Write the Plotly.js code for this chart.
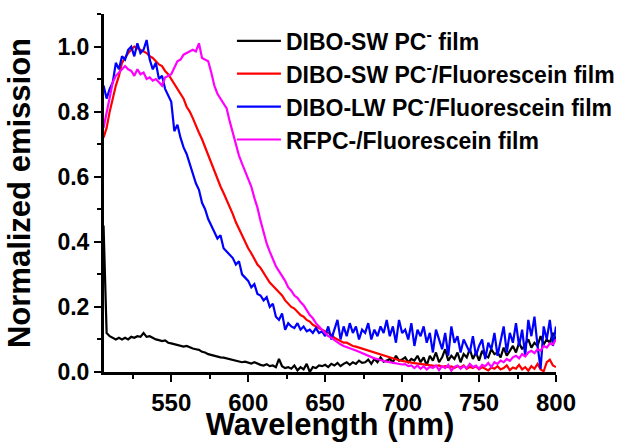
<!DOCTYPE html>
<html>
<head>
<meta charset="utf-8">
<script src="https://cdn.plot.ly/plotly-3.0.1.min.js"></script>
<style>html,body{margin:0;padding:0;background:#fff;}#chart{width:633px;height:442px;}</style>
</head>
<body>
<div id="chart"></div>
<script>
// Wavelength grid (nm), 506..800 step 2
const wavelength = [506,508,510,512,514,516,518,520,522,524,526,528,530,532,534,536,538,540,542,544,546,548,550,552,554,556,558,560,562,564,566,568,570,572,574,576,578,580,582,584,586,588,590,592,594,596,598,600,602,604,606,608,610,612,614,616,618,620,622,624,626,628,630,632,634,636,638,640,642,644,646,648,650,652,654,656,658,660,662,664,666,668,670,672,674,676,678,680,682,684,686,688,690,692,694,696,698,700,702,704,706,708,710,712,714,716,718,720,722,724,726,728,730,732,734,736,738,740,742,744,746,748,750,752,754,756,758,760,762,764,766,768,770,772,774,776,778,780,782,784,786,788,790,792,794,796,798,800];

const seriesNames = ["DIBO-SW PC<sup>-</sup> film", "DIBO-SW PC<sup>-</sup>/Fluorescein film", "DIBO-LW PC<sup>-</sup>/Fluorescein film", "RFPC-/Fluorescein film"];
const seriesColors = ["#000000", "#ff0000", "#0000ff", "#ff00ff"];

const diboSwFilm = [0.45,0.12,0.11,0.105,0.10,0.105,0.10,0.105,0.10,0.108,0.105,0.11,0.108,0.12,0.108,0.11,0.105,0.10,0.098,0.095,0.097,0.09,0.088,0.085,0.083,0.08,0.078,0.08,0.075,0.072,0.07,0.068,0.062,0.06,0.055,0.052,0.05,0.048,0.045,0.044,0.042,0.04,0.036,0.035,0.032,0.03,0.032,0.028,0.026,0.03,0.025,0.022,0.02,0.024,0.018,0.02,0.015,0.04,0.018,0.012,0.015,0.01,0.02,0.005,0.015,0.008,0.025,0.0,0.015,0.012,0.02,0.018,0.022,0.015,0.025,0.02,0.028,0.018,0.025,0.03,0.022,0.03,0.025,0.035,0.028,0.03,0.038,0.025,0.04,0.03,0.045,0.032,0.035,0.04,0.03,0.05,0.035,0.038,0.045,0.03,0.04,0.035,0.05,0.03,0.045,0.02,0.05,0.035,0.06,0.03,0.045,0.07,0.035,0.05,0.04,0.06,0.03,0.055,0.045,0.07,0.04,0.06,0.035,0.065,0.05,0.045,0.07,0.055,0.06,0.045,0.075,0.05,0.065,0.08,0.06,0.09,0.07,0.085,0.1,0.075,0.09,0.08,0.11,0.085,0.1,0.09,0.12,0.1];

const diboSwFluor = [0.72,0.75,0.80,0.84,0.88,0.91,0.95,0.965,0.98,0.99,1.0,0.995,0.99,0.985,0.98,0.97,0.965,0.955,0.945,0.94,0.925,0.915,0.90,0.885,0.87,0.855,0.84,0.815,0.80,0.78,0.755,0.735,0.715,0.69,0.665,0.64,0.615,0.595,0.57,0.55,0.53,0.51,0.485,0.46,0.44,0.415,0.395,0.38,0.365,0.345,0.33,0.32,0.305,0.29,0.275,0.265,0.255,0.245,0.235,0.22,0.21,0.20,0.195,0.185,0.175,0.17,0.16,0.155,0.145,0.14,0.135,0.13,0.125,0.12,0.115,0.105,0.10,0.095,0.09,0.09,0.085,0.08,0.078,0.075,0.072,0.068,0.066,0.062,0.058,0.055,0.052,0.05,0.046,0.044,0.042,0.038,0.036,0.034,0.033,0.03,0.029,0.027,0.026,0.024,0.022,0.023,0.021,0.02,0.018,0.02,0.016,0.018,0.015,0.017,0.012,0.018,0.014,0.02,0.01,0.016,0.012,0.018,0.008,0.015,0.01,0.005,0.014,0.01,0.018,0.008,0.012,0.02,0.006,0.014,0.01,0.022,0.008,0.015,0.004,0.018,0.01,0.025,0.008,0.002,0.03,0.038,0.02,0.015];

const diboLwFluor = [0.88,0.84,0.87,0.89,0.95,0.93,0.97,0.96,0.99,1.0,0.97,1.01,0.98,0.99,1.02,0.96,0.93,0.95,0.90,0.91,0.87,0.85,0.83,0.74,0.76,0.72,0.69,0.67,0.64,0.61,0.58,0.56,0.52,0.50,0.47,0.45,0.43,0.41,0.42,0.38,0.37,0.36,0.35,0.33,0.34,0.30,0.29,0.28,0.26,0.27,0.24,0.235,0.22,0.23,0.20,0.21,0.17,0.16,0.18,0.13,0.15,0.14,0.135,0.15,0.13,0.14,0.125,0.13,0.12,0.135,0.12,0.125,0.11,0.14,0.10,0.13,0.16,0.10,0.14,0.11,0.15,0.12,0.14,0.10,0.13,0.12,0.15,0.10,0.13,0.11,0.14,0.12,0.16,0.11,0.14,0.09,0.16,0.12,0.13,0.10,0.15,0.08,0.13,0.11,0.14,0.09,0.12,0.06,0.13,0.10,0.07,0.12,0.05,0.14,0.09,0.11,0.06,0.10,0.08,0.06,0.11,0.05,0.08,0.10,0.04,0.09,0.07,0.12,0.05,0.10,0.14,0.06,0.12,0.09,0.15,0.08,0.13,0.05,0.16,0.11,0.17,0.08,0.01,0.14,0.10,0.16,0.08,0.14];

const rfpcFluor = [0.75,0.80,0.85,0.89,0.91,0.92,0.93,0.94,0.93,0.925,0.91,0.93,0.915,0.92,0.90,0.905,0.895,0.90,0.89,0.88,0.905,0.91,0.915,0.935,0.955,0.96,0.975,0.98,0.985,0.99,0.985,1.01,0.965,0.96,0.955,0.92,0.88,0.855,0.84,0.825,0.81,0.77,0.735,0.70,0.665,0.64,0.615,0.595,0.57,0.535,0.505,0.465,0.43,0.395,0.37,0.345,0.325,0.31,0.295,0.28,0.26,0.25,0.235,0.228,0.215,0.205,0.19,0.175,0.165,0.15,0.14,0.13,0.12,0.11,0.105,0.098,0.09,0.085,0.08,0.077,0.074,0.07,0.066,0.062,0.058,0.055,0.05,0.045,0.042,0.04,0.036,0.034,0.032,0.03,0.028,0.027,0.025,0.023,0.024,0.018,0.02,0.012,0.02,0.01,0.018,0.008,0.016,0.012,0.02,0.006,0.018,0.012,0.022,0.004,0.016,0.02,0.01,0.018,0.012,0.025,0.015,0.02,0.01,0.022,0.018,0.028,0.015,0.03,0.025,0.035,0.03,0.04,0.034,0.045,0.05,0.042,0.055,0.048,0.06,0.065,0.058,0.07,0.066,0.08,0.075,0.088,0.085,0.1];

const xTickVals = [550, 600, 650, 700, 750, 800];
const xTickText = ["<b>550</b>", "<b>600</b>", "<b>650</b>", "<b>700</b>", "<b>750</b>", "<b>800</b>"];
const yTickVals = [0.0, 0.2, 0.4, 0.6, 0.8, 1.0];
const yTickText = ["<b>0.0</b>", "<b>0.2</b>", "<b>0.4</b>", "<b>0.6</b>", "<b>0.8</b>", "<b>1.0</b>"];

const allSeries = [diboSwFilm, diboSwFluor, diboLwFluor, rfpcFluor];
const traces = allSeries.map((vals, i) => ({
  x: wavelength,
  y: vals,
  type: "scatter",
  mode: "lines",
  name: "<b>" + seriesNames[i] + "</b>",
  line: {color: seriesColors[i], width: 2.2},
  hoverinfo: "skip"
}));

const font = "'Liberation Sans', Arial, sans-serif";
const layout = {
  width: 633, height: 442,
  margin: {l: 104, r: 77, t: 14, b: 70, pad: 0},
  paper_bgcolor: "#fff", plot_bgcolor: "#fff",
  showlegend: true,
  legend: {
    x: 0.283, y: 0.985, xanchor: "left", yanchor: "top",
    bgcolor: "rgba(0,0,0,0)", borderwidth: 0,
    itemwidth: 44,
    font: {family: font, size: 23, color: "#000"}
  },
  xaxis: {
    range: [506.3, 800],
    showgrid: false, zeroline: false,
    showline: true, linecolor: "#000", linewidth: 3,
    ticks: "outside", ticklen: 7, tickwidth: 2, tickcolor: "#000",
    tickmode: "array", tickvals: xTickVals, ticktext: xTickText,
    minor: {dtick: 25, tick0: 500, ticks: "outside", ticklen: 4, tickwidth: 2, tickcolor: "#000", showgrid: false},
    tickfont: {family: font, size: 24, color: "#000"},
    title: {text: "<b>Wavelength (nm)</b>", font: {family: font, size: 31, color: "#000"}},
    automargin: false
  },
  yaxis: {
    range: [0, 1.1],
    showgrid: false, zeroline: false,
    showline: true, linecolor: "#000", linewidth: 3,
    ticks: "outside", ticklen: 7, tickwidth: 2, tickcolor: "#000",
    tickmode: "array", tickvals: yTickVals, ticktext: yTickText,
    minor: {dtick: 0.1, tick0: 0, ticks: "outside", ticklen: 4, tickwidth: 2, tickcolor: "#000", showgrid: false},
    tickfont: {family: font, size: 23, color: "#000"},
    title: {text: "<b>Normalized emission</b>", font: {family: font, size: 31, color: "#000"}},
    automargin: false
  }
};

Plotly.newPlot("chart", traces, layout, {displayModeBar: false, staticPlot: true});
</script>
</body>
</html>
